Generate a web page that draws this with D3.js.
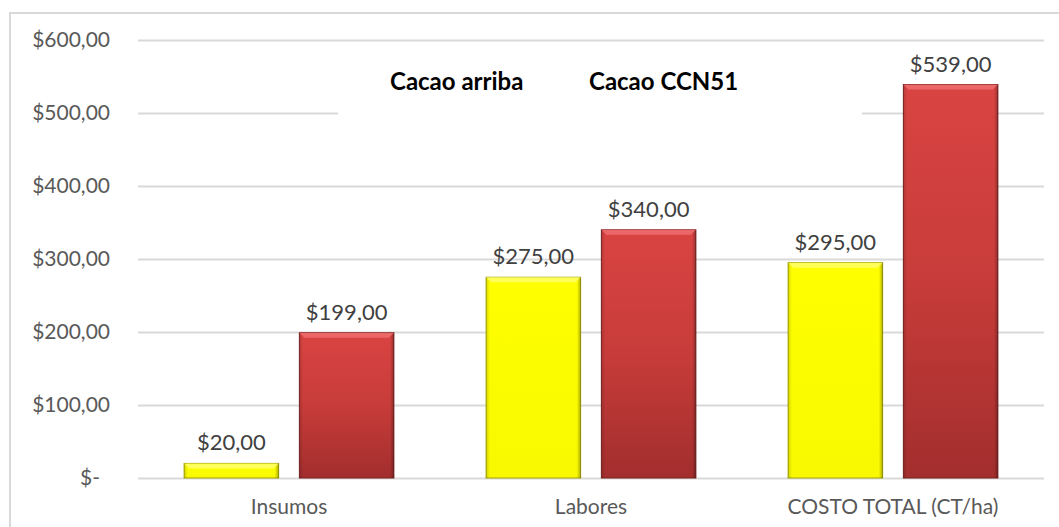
<!DOCTYPE html>
<html>
<head>
<meta charset="utf-8">
<script src="https://cdn.jsdelivr.net/npm/d3@7"></script>
<style>
	body { margin: 0; background: #fff; }
	svg { display: block; font-family: Lato, 'Open Sans', sans-serif; }
</style>
</head>
<body>
<div id="chart"></div>
<script>
// Chart data
const categories = [ 'Insumos', 'Labores', 'COSTO TOTAL (CT/ha)' ];
const seriesNames = [ 'Cacao arriba', 'Cacao CCN51' ];
const arribaValues = [ 20, 275, 295 ];
const ccn51Values = [ 199, 340, 539 ];
const yTicks = [ 0, 100, 200, 300, 400, 500, 600 ];

const width = 1059,
	height = 527;
const margin = { top: 40, right: 15, bottom: 49, left: 138 };

const svg = d3.select( '#chart' )
	.append( 'svg' )
	.attr( 'width', width )
	.attr( 'height', height );

const defs = svg.append( 'defs' );

// Bevelled bar look: vertical gradient + darker side edges
function barGradient( id, stops, vertical ) {
	const g = defs.append( 'linearGradient' )
		.attr( 'id', id )
		.attr( 'x1', 0 ).attr( 'y1', 0 )
		.attr( 'x2', vertical ? 0 : 1 ).attr( 'y2', vertical ? 1 : 0 );
	stops.forEach( ( s ) => {
		g.append( 'stop' ).attr( 'offset', s[ 0 ] ).attr( 'stop-color', s[ 1 ] ).attr( 'stop-opacity', s[ 2 ] === undefined ? 1 : s[ 2 ] );
	} );
}
barGradient( 'redFill', [ [ 0, '#d94442' ], [ 0.5, '#c73c3a' ], [ 1, '#a22e2d' ] ], true );
barGradient( 'yellowFill', [ [ 0, '#ffff00' ], [ 1, '#f8f800' ] ], true );
barGradient( 'edgeShade', [ [ 0, '#000', 0.15 ], [ 0.04, '#000', 0 ], [ 0.96, '#000', 0 ], [ 1, '#000', 0.3 ] ], false );

// Outer chart border
svg.append( 'rect' )
	.attr( 'x', 10 )
	.attr( 'y', 13 )
	.attr( 'width', width + 20 )
	.attr( 'height', height + 20 )
	.attr( 'fill', 'none' )
	.attr( 'stroke', '#d9d9d9' )
	.attr( 'stroke-width', 2 );

const plotW = width - margin.left - margin.right;

const x0 = d3.scaleBand()
	.domain( categories )
	.range( [ margin.left, margin.left + plotW ] )
	.paddingInner( 0 )
	.paddingOuter( 0 );

const x1 = d3.scaleBand()
	.domain( seriesNames )
	.range( [ 0, x0.bandwidth() ] )
	.paddingInner( 0.18 )
	.paddingOuter( 0.4 );

const y = d3.scaleLinear()
	.domain( [ 0, 600 ] )
	.range( [ 478, margin.top ] );

// Gridlines
svg.append( 'g' )
	.selectAll( 'line' )
	.data( yTicks )
	.join( 'line' )
	.attr( 'x1', margin.left )
	.attr( 'x2', margin.left + plotW )
	.attr( 'y1', ( d ) => Math.round( y( d ) ) + 0.5 )
	.attr( 'y2', ( d ) => Math.round( y( d ) ) + 0.5 )
	.attr( 'stroke', '#d9d9d9' )
	.attr( 'stroke-width', 2 );

// Y axis labels
const fmt = ( v ) => v === 0 ? '$-' : '$' + v.toFixed( 2 ).replace( '.', ',' );
svg.append( 'g' )
	.selectAll( 'text' )
	.data( yTicks )
	.join( 'text' )
	.attr( 'x', ( d ) => d === 0 ? 100 : 110 )
	.attr( 'y', ( d ) => y( d ) )
	.attr( 'dy', '0.35em' )
	.attr( 'text-anchor', 'end' )
	.attr( 'font-size', 21 )
	.attr( 'fill', '#595959' )
	.text( fmt );

// Legend (white box hides the gridline behind it)
svg.append( 'rect' )
	.attr( 'x', 338 )
	.attr( 'y', 60 )
	.attr( 'width', 524 )
	.attr( 'height', 60 )
	.attr( 'fill', '#fff' );

const legendX = [ 390, 589 ];
svg.append( 'g' )
	.selectAll( 'text' )
	.data( seriesNames )
	.join( 'text' )
	.attr( 'x', ( d, i ) => legendX[ i ] )
	.attr( 'y', 82 )
	.attr( 'dy', '0.35em' )
	.attr( 'font-size', 24 )
	.attr( 'font-weight', 'bold' )
	.attr( 'fill', '#000' )
	.text( ( d ) => d );

// Bars
const rows = categories.map( ( c, i ) => ( {
	category: c,
	values: [
		{ series: seriesNames[ 0 ], value: arribaValues[ i ] },
		{ series: seriesNames[ 1 ], value: ccn51Values[ i ] },
	],
} ) );

const groups = svg.append( 'g' )
	.selectAll( 'g' )
	.data( rows )
	.join( 'g' )
	.attr( 'transform', ( d ) => `translate(${ x0( d.category ) },0)` );

const bars = groups.selectAll( 'g' )
	.data( ( d ) => d.values )
	.join( 'g' );

bars.append( 'rect' )
	.attr( 'x', ( d ) => x1( d.series ) )
	.attr( 'y', ( d ) => y( d.value ) )
	.attr( 'width', x1.bandwidth() )
	.attr( 'height', ( d ) => y( 0 ) - y( d.value ) )
	.attr( 'fill', ( d ) => d.series === seriesNames[ 0 ] ? 'url(#yellowFill)' : 'url(#redFill)' )
	.attr( 'stroke', ( d ) => d.series === seriesNames[ 0 ] ? '#a5a500' : '#7a2020' )
	.attr( 'stroke-width', 1 );

bars.append( 'rect' )
	.attr( 'x', ( d ) => x1( d.series ) )
	.attr( 'y', ( d ) => y( d.value ) )
	.attr( 'width', x1.bandwidth() )
	.attr( 'height', ( d ) => y( 0 ) - y( d.value ) )
	.attr( 'fill', 'url(#edgeShade)' );

// Top bevel highlight
bars.append( 'path' )
	.attr( 'd', ( d ) => {
		const bx = x1( d.series ),
			bw = x1.bandwidth(),
			by = y( d.value ),
			b = Math.min( 5, ( y( 0 ) - by ) / 2 );
		return `M${ bx },${ by }H${ bx + bw }L${ bx + bw - b },${ by + b }H${ bx + b }Z`;
	} )
	.attr( 'fill', ( d ) => d.series === seriesNames[ 0 ] ? '#ffff70' : '#f07070' )
	.attr( 'opacity', 0.8 );

// Value labels
bars.append( 'text' )
	.attr( 'x', ( d ) => x1( d.series ) + x1.bandwidth() / 2 )
	.attr( 'y', ( d ) => y( d.value ) - 13 )
	.attr( 'text-anchor', 'middle' )
	.attr( 'font-size', 22 )
	.attr( 'fill', '#404040' )
	.text( ( d ) => fmt( d.value ) );

// Category labels
svg.append( 'g' )
	.selectAll( 'text' )
	.data( categories )
	.join( 'text' )
	.attr( 'x', ( d ) => x0( d ) + x0.bandwidth() / 2 )
	.attr( 'y', 507 )
	.attr( 'dy', '0.35em' )
	.attr( 'text-anchor', 'middle' )
	.attr( 'font-size', 21 )
	.attr( 'fill', '#595959' )
	.text( ( d ) => d );
</script>
</body>
</html>
